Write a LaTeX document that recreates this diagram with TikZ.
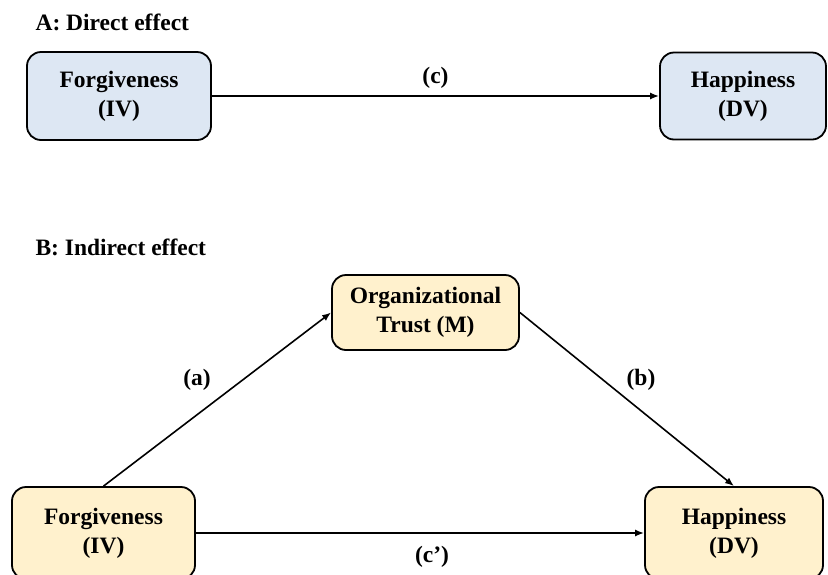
\documentclass[tikz,border=0pt]{standalone}
\usepackage{fontspec}
\setmainfont{Liberation Serif}
\usetikzlibrary{arrows.meta}
\definecolor{boxblue}{HTML}{DDE7F3}
\definecolor{boxgold}{HTML}{FFF1CD}
\tikzset{
  var/.style={draw=black, line width=1.8pt, rounded corners=14pt, align=center,
    font=\fontsize{23.5}{29}\selectfont\bfseries, inner sep=0pt},
  path/.style={line width=1.6pt, -{Latex[length=9pt,width=7pt]}},
  lbl/.style={font=\fontsize{23.5}{26}\selectfont\bfseries},
  head/.style={font=\fontsize{23.5}{26}\selectfont\bfseries, anchor=west}
}
\begin{document}
\begin{tikzpicture}[x=1pt,y=-1pt]
  \useasboundingbox (0,0) rectangle (828,574);
  \clip (0,0) rectangle (828,574);

  % Panel A: direct effect
  \node[head] (hA) at (32,22) {A: Direct effect};
  \node[var, fill=boxblue, minimum width=184pt, minimum height=88pt] (ivA) at (119,96) {Forgiveness\\(IV)};
  \node[var, fill=boxblue, minimum width=166pt, minimum height=87pt] (dvA) at (743,96) {Happiness\\(DV)};
  \draw[path] (ivA) -- node[lbl, above=3pt] (c) {(c)} (dvA);

  % Panel B: indirect effect
  \node[head] (hB) at (32,247) {B: Indirect effect};
  \node[var, fill=boxgold, minimum width=187pt, minimum height=75pt] (m) at (425.5,312.5) {Organizational\\Trust (M)};
  \node[var, fill=boxgold, minimum width=183pt, minimum height=92pt] (ivB) at (103.5,533) {Forgiveness\\(IV)};
  \node[var, fill=boxgold, minimum width=178pt, minimum height=92pt] (dvB) at (734,533) {Happiness\\(DV)};

  \draw[path] (ivB.north) -- (m.west);
  \draw[path] (m.east) -- (dvB.north);
  \draw[path] (ivB) -- (dvB);

  \node[lbl] (a) at (197,380) {(a)};
  \node[lbl] (b) at (641,380) {(b)};
  \node[lbl] (cp) at (432,557) {(c’)};
\end{tikzpicture}
\end{document}
